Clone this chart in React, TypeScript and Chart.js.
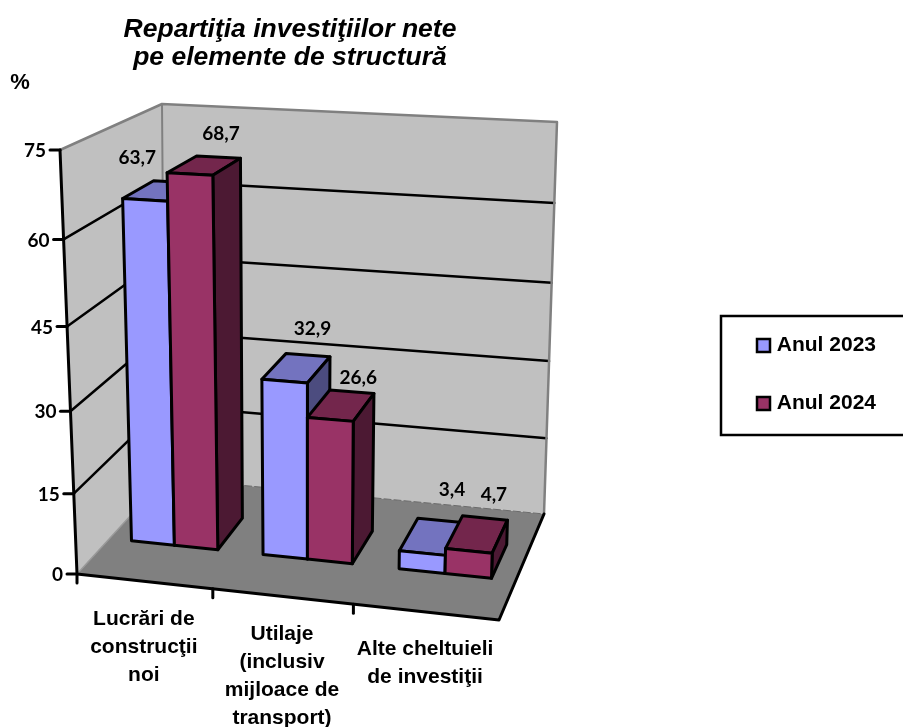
import React, { useEffect, useRef } from "react";
import { Chart, registerables } from "chart.js";

Chart.register(...registerables);

const categories = [
  ["Lucrări de", "construcţii", "noi"],
  ["Utilaje", "(inclusiv", "mijloace de", "transport)"],
  ["Alte cheltuieli", "de investiţii"],
];
const series2023 = [63.7, 32.9, 3.4];
const series2024 = [68.7, 26.6, 4.7];
const yTickStep = 15;
const yMax = 75;
const titleLines = ["Repartiţia investiţiilor nete", "pe elemente de structură"];
const unitLabel = "%";

const BLUE = "#9999FF";
const RED = "#993366";
const shade = [
  { top: "#7373BF", side: "#4C4C7F" },
  { top: "#73264C", side: "#4C1933" },
];

type Pt = [number, number];
type Quad = [Pt, Pt, Pt, Pt];
// unit-square corners (u,v): (0,0), (1,0), (1,1), (0,1)
const FRONT: Quad = [[77, 574], [499, 620], [512, 175], [60, 150]];
const BACK: Quad = [[165, 478], [544, 514], [557, 122], [162, 104]];
const BAR_DEPTH: [number, number] = [0.37, 0.69];

const LABEL_SHIFT: Pt[][] = [
  [[-38, -24], [4.5, -26], [12, -31]],
  [[2.5, -23], [6.5, -13.5], [9, -23]],
];

function homography(q: Quad) {
  const [[x0, y0], [x1, y1], [x2, y2], [x3, y3]] = q;
  const dx1 = x1 - x2, dx2 = x3 - x2, sx = x0 - x1 + x2 - x3;
  const dy1 = y1 - y2, dy2 = y3 - y2, sy = y0 - y1 + y2 - y3;
  const det = dx1 * dy2 - dx2 * dy1;
  const g = (sx * dy2 - dx2 * sy) / det;
  const h = (dx1 * sy - sx * dy1) / det;
  const a = x1 - x0 + g * x1, b = x3 - x0 + h * x3, c = x0;
  const d = y1 - y0 + g * y1, e = y3 - y0 + h * y3, f = y0;
  return (u: number, v: number): Pt => {
    const k = g * u + h * v + 1;
    return [(a * u + b * v + c) / k, (d * u + e * v + f) / k];
  };
}
const front = homography(FRONT);
const back = homography(BACK);
const project = (u: number, v: number, w: number): Pt => {
  const p = front(u, v), q = back(u, v);
  return [p[0] + (q[0] - p[0]) * w, p[1] + (q[1] - p[1]) * w];
};

const poly = (ctx: CanvasRenderingContext2D, pts: Pt[], fill?: string, stroke?: string, lw = 2) => {
  ctx.beginPath();
  pts.forEach((p, i) => (i ? ctx.lineTo(p[0], p[1]) : ctx.moveTo(p[0], p[1])));
  if (fill) {
    ctx.closePath();
    ctx.fillStyle = fill;
    ctx.fill();
  }
  if (stroke) {
    ctx.strokeStyle = stroke;
    ctx.lineWidth = lw;
    ctx.stroke();
  }
};

const scene3d = {
  id: "scene3d",
  afterLayout(chart: any) {
    const l = chart.legend;
    l.left = 720; l.right = 876; l.top = 298; l.bottom = 600;
    const t = chart.titleBlock;
    t.left = 0; t.right = 580; t.top = 16; t.bottom = 73;
  },
  beforeDatasetsDraw(chart: any) {
    const ctx: CanvasRenderingContext2D = chart.ctx;
    const area = chart.chartArea;
    const ys = chart.scales.y;
    const xs = chart.scales.x;
    const uOf = (px: number) => (px - area.left) / (area.right - area.left);
    const vOf = (val: number) => (area.bottom - ys.getPixelForValue(val)) / (area.bottom - area.top);

    ctx.save();
    ctx.lineJoin = "round";
    ctx.lineCap = "round";

    // walls and floor
    poly(ctx, [front(0, 0), back(0, 0), back(0, 1), front(0, 1)], "#C0C0C0");
    poly(ctx, [back(0, 0), back(1, 0), back(1, 1), back(0, 1)], "#C0C0C0");
    poly(ctx, [front(0, 0), front(1, 0), back(1, 0), back(0, 0)], "#808080");

    // grid lines from the value scale
    ys.ticks.forEach((t: any) => {
      if (t.value <= 0 || t.value >= yMax) return;
      const v = vOf(t.value);
      poly(ctx, [front(0, v), back(0, v), back(1, v)], undefined, "#000", 2.5);
    });

    // wall borders
    poly(ctx, [front(0, 1), back(0, 1), back(1, 1), back(1, 0)], undefined, "#808080", 2.5);
    poly(ctx, [back(0, 1), back(0, 0)], undefined, "#808080", 2);
    poly(ctx, [front(0, 0), back(0, 0)], undefined, "#999", 1.5);
    ctx.setLineDash([7, 3]);
    poly(ctx, [back(0, 0), back(1, 0)], undefined, "#6a6a6a", 1);
    ctx.setLineDash([]);

    // axes
    poly(ctx, [front(0, 1), front(0, 0), front(1, 0), back(1, 0)], undefined, "#000", 3);

    // value ticks and labels
    ctx.font = 'bold 19px Lato';
    ctx.fillStyle = "#000";
    ctx.textBaseline = "middle";
    ctx.textAlign = "right";
    ys.ticks.forEach((t: any) => {
      const p = front(0, vOf(t.value));
      poly(ctx, [[p[0] - 10, p[1]], p], undefined, "#000", 3);
      ctx.fillStyle = "#000";
      ctx.fillText(t.label, p[0] - 14, p[1] + 1);
    });
    ctx.textAlign = "center";
    ctx.font = 'bold 22px "Liberation Sans"';
    ctx.fillText(unitLabel, 20, 83);

    // category ticks and labels
    const n = categories.length;
    for (let i = 0; i < n; i++) {
      const p = front(i / n, 0);
      poly(ctx, [p, [p[0], p[1] + 9]], undefined, "#000", 3);
    }
    ctx.font = 'bold 21px "Liberation Sans"';
    ctx.fillStyle = "#000";
    categories.forEach((_, i) => {
      const lines: string[] = xs.getLabelForValue(i) as any;
      const c = front(uOf(xs.getPixelForValue(i)), 0);
      (Array.isArray(lines) ? lines : [lines]).forEach((s, k) => {
        ctx.fillText(s, c[0] - 0.5, c[1] + 37.5 + k * 28);
      });
    });

    // bars
    const [w0, w1] = BAR_DEPTH;
    for (let i = 0; i < n; i++) {
      chart.data.datasets.forEach((ds: any, di: number) => {
        const el = chart.getDatasetMeta(di).data[i];
        const a = uOf(el.x - el.width / 2), b = uOf(el.x + el.width / 2);
        const v = (area.bottom - el.y) / (area.bottom - area.top);
        const ft: Pt[] = [project(a, 0, w0), project(b, 0, w0), project(b, v, w0), project(a, v, w0)];
        const tp: Pt[] = [project(a, v, w0), project(b, v, w0), project(b, v, w1), project(a, v, w1)];
        const sd: Pt[] = [project(b, 0, w0), project(b, 0, w1), project(b, v, w1), project(b, v, w0)];
        poly(ctx, tp, shade[di].top, "#000", 3);
        poly(ctx, sd, shade[di].side, "#000", 3);
        poly(ctx, ft, ds.backgroundColor, "#000", 3);
      });
    }

    // value labels
    ctx.font = 'bold 19px Lato';
    ctx.fillStyle = "#000";
    ctx.textAlign = "center";
    ctx.textBaseline = "middle";
    chart.data.datasets.forEach((ds: any, di: number) => {
      chart.getDatasetMeta(di).data.forEach((el: any, i: number) => {
        const a = uOf(el.x), v = (area.bottom - el.y) / (area.bottom - area.top);
        const p = project(a, v, w1);
        const s = LABEL_SHIFT[di][i];
        ctx.fillText(String(ds.data[i]).replace(".", ","), p[0] + s[0], p[1] + s[1]);
      });
    });
    ctx.restore();
    return false;
  },
  afterDraw(chart: any) {
    const ctx: CanvasRenderingContext2D = chart.ctx;
    ctx.save();
    ctx.strokeStyle = "#000";
    ctx.lineWidth = 2.5;
    ctx.strokeRect(721, 316, 200, 119);
    ctx.restore();
  },
};

export default function App() {
  const ref = useRef<HTMLCanvasElement>(null);
  useEffect(() => {
    const chart = new Chart(ref.current!, {
      type: "bar",
      plugins: [scene3d as any],
      data: {
        labels: categories as any,
        datasets: [
          { label: "Anul 2023", data: series2023, backgroundColor: BLUE, borderColor: "#000", borderWidth: 2.5 },
          { label: "Anul 2024", data: series2024, backgroundColor: RED, borderColor: "#000", borderWidth: 2.5 },
        ],
      },
      options: {
        animation: false,
        responsive: false,
        devicePixelRatio: 1,
        events: [],
        datasets: { bar: { barPercentage: 1, categoryPercentage: 0.66 } },
        layout: { padding: 0 },
        scales: {
          x: { display: false, grid: { display: false } },
          y: { display: false, min: 0, max: yMax, ticks: { stepSize: yTickStep } },
        },
        plugins: {
          tooltip: { enabled: false },
          title: {
            display: true,
            text: titleLines,
            color: "#000",
            align: "center",
            padding: 0,
            font: { family: '"Liberation Sans"', size: 26.5, weight: "bold", style: "italic", lineHeight: 1.06 },
          },
          legend: {
            display: true,
            position: "right",
            align: "start",
            labels: {
              boxWidth: 13,
              boxHeight: 13,
              padding: 37,
              color: "#000",
              textAlign: "right",
              font: { family: '"Liberation Sans"', size: 21, weight: "bold" },
            },
          },
        },
      } as any,
    });
    return () => chart.destroy();
  }, []);
  return (
    <div style={{ position: "fixed", left: 0, top: 0, width: 903, height: 727, overflow: "hidden", background: "#fff" }}>
      <canvas ref={ref} width={903} height={727} style={{ display: "block" }} />
    </div>
  );
}
